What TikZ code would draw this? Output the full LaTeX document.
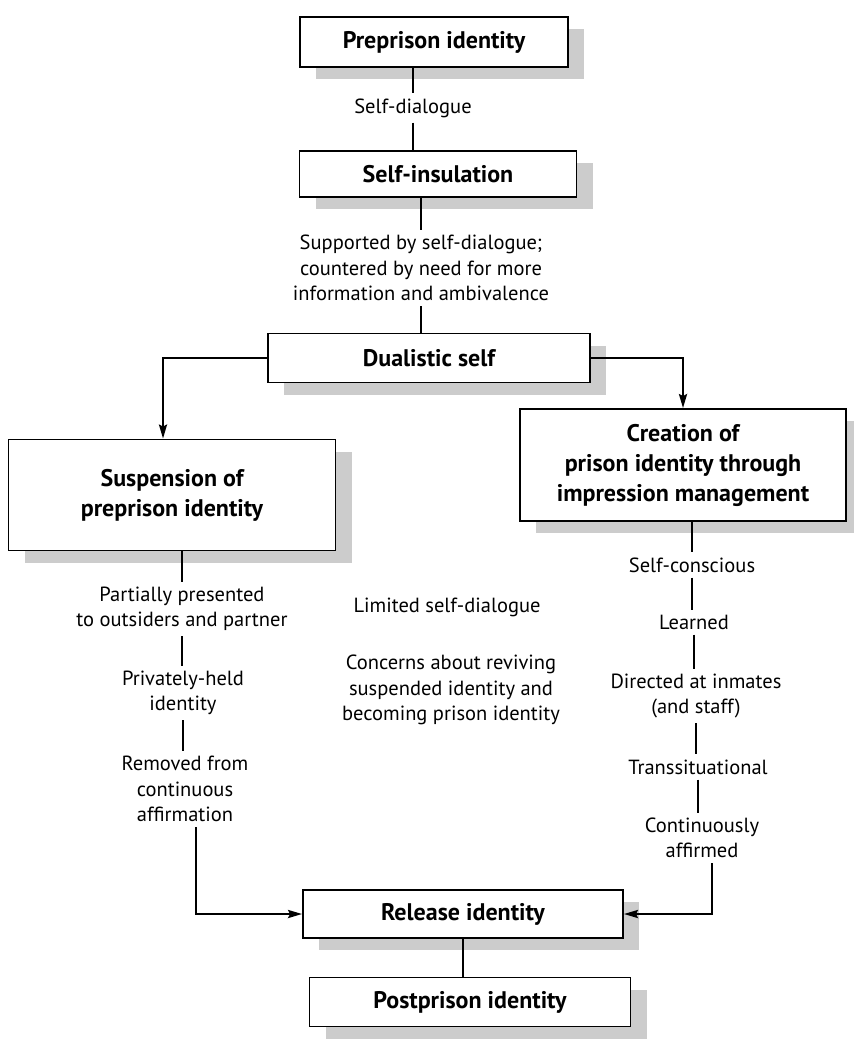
\documentclass[tikz,border=0pt]{standalone}
\usepackage{fontspec}
\setmainfont{PT Sans}
\usetikzlibrary{arrows.meta,shadows}
\begin{document}
\begin{tikzpicture}[x=1pt,y=-1pt,
  box/.style={draw, line width=1.8pt, fill=white, align=center,
    font=\fontsize{24}{30}\selectfont\bfseries, inner sep=0pt,
    drop shadow={shadow xshift=16pt, shadow yshift=-12pt, fill=black!20, opacity=1}},
  lbl/.style={align=center, font=\fontsize{20.5}{25.5}\selectfont, inner sep=5pt},
  conn/.style={line width=2.4pt},
  arr/.style={line width=2.4pt, -{Stealth[length=14pt,width=8pt,inset=2pt]}},
]
\useasboundingbox (0,0) rectangle (854,1042);
% boxes
\node[box, minimum width=268pt, minimum height=50pt] (pre) at (434,42) {Preprison identity};
\node[box, minimum width=277pt, minimum height=46pt] (ins) at (438,174) {Self-insulation};
\node[box, minimum width=322pt, minimum height=49pt] (dual) at (429,358) {Dualistic self};
\node[box, minimum width=327pt, minimum height=111pt] (susp) at (172,495) {Suspension of\\preprison identity};
\node[box, minimum width=326pt, minimum height=112pt] (crea) at (683,465) {Creation of\\prison identity through\\impression management};
\node[box, minimum width=320pt, minimum height=48pt] (rel) at (463,914) {Release identity};
\node[box, minimum width=321pt, minimum height=49pt] (post) at (470,1002) {Postprison identity};
% labels
\node[lbl] (l1) at (413,108) {Self-dialogue};
\node[lbl] (l2) at (421,268) {Supported by self-dialogue;\\countered by need for more\\information and ambivalence};
\node[lbl] (a1) at (182,609) {Partially presented\\to outsiders and partner};
\node[lbl] (a2) at (183,693) {Privately-held\\identity};
\node[lbl] (a3) at (185,789) {Removed from\\continuous\\affirmation};
\node[lbl] (m1) at (447,607) {Limited self-dialogue};
\node[lbl] (m2) at (451,690) {Concerns about reviving\\suspended identity and\\becoming prison identity};
\node[lbl] (r1) at (692,565) {Self-conscious};
\node[lbl] (r2) at (694,622) {Learned};
\node[lbl] (r3) at (696,696) {Directed at inmates\\(and staff)};
\node[lbl] (r4) at (698,767) {Transsituational};
\node[lbl] (r5) at (702,838) {Continuously\\affirmed};
% connectors
\draw[conn] (pre.south -| l1) -- (l1.north);
\draw[conn] (l1.south) -- (l1.south |- ins.north);
\draw[conn] (ins.south -| l2) -- (l2.north);
\draw[conn] (l2.south) -- (l2.south |- dual.north);
\draw[arr] (dual.west) -| ([xshift=-9pt]susp.north);
\draw[arr] (dual.east) -| (crea.north);
\draw[conn] (susp.south -| a1) -- (a1.north);
\draw[conn] (a1.south) -- (a1.south |- a2.north);
\draw[conn] (a2.south) -- (a2.south |- a3.north);
\draw[arr] ([xshift=11pt]a3.south) |- (rel.west);
\draw[conn] (crea.south -| r1) -- (r1.north);
\draw[conn] (r1.south) -- (r1.south |- r2.north);
\draw[conn] (r2.south) -- (r2.south |- r3.north);
\draw[conn] (r3.south) -- (r3.south |- r4.north);
\draw[conn] (r4.south) -- (r4.south |- r5.north);
\draw[arr] ([xshift=10pt]r5.south) |- (rel.east);
\draw[line width=1.8pt] (rel.south) -- (rel.south |- post.north);
\end{tikzpicture}
\end{document}
